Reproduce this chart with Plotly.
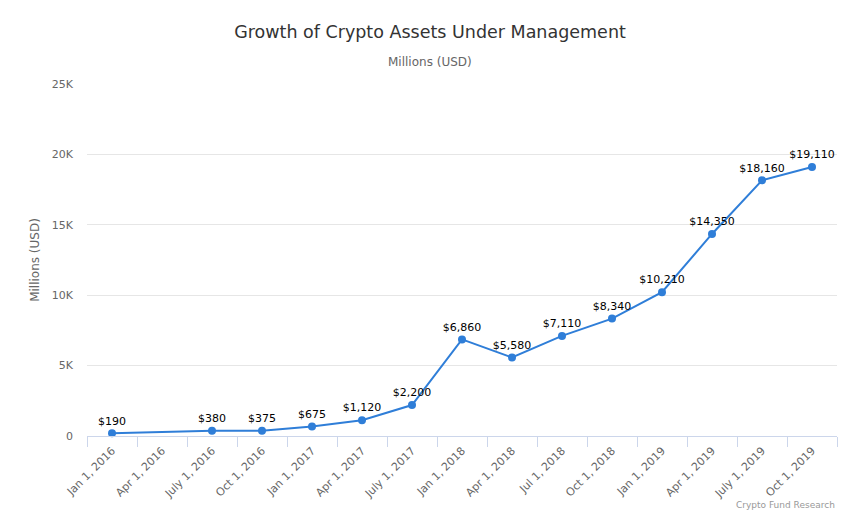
import plotly.graph_objects as go

categories = ["Jan 1, 2016", "Apr 1, 2016", "July 1, 2016", "Oct 1, 2016", "Jan 1, 2017",
              "Apr 1, 2017", "July 1, 2017", "Jan 1, 2018", "Apr 1, 2018", "Jul 1, 2018",
              "Oct 1, 2018", "Jan 1, 2019", "Apr 1, 2019", "July 1, 2019", "Oct 1, 2019"]
aum_values = [190, None, 380, 375, 675, 1120, 2200, 6860, 5580, 7110, 8340, 10210, 14350, 18160, 19110]
y_tick_values = [0, 5000, 10000, 15000, 20000, 25000]
y_tick_labels = ["0", "5K", "10K", "15K", "20K", "25K"]

labels = ["" if v is None else "${:,}".format(v) for v in aum_values]

FONT = "DejaVu Sans"
W, H = 860, 523  # page body has an 8px margin
T, B, L, R = 76, 95, 79, 31
PH = H - T - B
PW = W - L - R


def paper_y(fig_px):
    return (H - B - fig_px) / PH


def paper_x(fig_px):
    return (fig_px - L) / PW


fig = go.Figure()
fig.add_trace(go.Scatter(
    x=categories, y=aum_values, mode="lines+markers+text",
    text=labels, textposition="top center",
    textfont=dict(family=FONT, size=11, color="#000000"),
    line=dict(color="#2f7ed8", width=2),
    marker=dict(color="#2f7ed8", size=8),
    connectgaps=True, cliponaxis=False, hoverinfo="x+y",
))

fig.update_layout(
    width=W, height=H,
    margin=dict(l=L, r=R, t=T, b=B),
    paper_bgcolor="white", plot_bgcolor="white",
    showlegend=False,
    font=dict(family=FONT, color="#666666"),
    title=dict(text="Growth of Crypto Assets Under Management", x=422 / W, xanchor="center",
               y=1 - 24 / H, yref="container", yanchor="middle",
               font=dict(family=FONT, size=17.5, color="#333333")),
    xaxis=dict(type="category", tickson="boundaries", ticks="outside", ticklen=10,
               tickcolor="#ccd6eb", tickwidth=1, showline=True, linecolor="#ccd6eb",
               linewidth=1, showgrid=False, tickangle=-45, ticklabelstandoff=3,
               tickfont=dict(family=FONT, size=11, color="#666666"),
               range=[-0.5, 14.5], fixedrange=True),
    yaxis=dict(range=[0, 25000], tickvals=y_tick_values, ticktext=y_tick_labels,
               showgrid=True, gridcolor="#e6e6e6", gridwidth=1, zeroline=False,
               showline=False, ticks="", ticklabelstandoff=13,
               tickfont=dict(family=FONT, size=11, color="#666666"),
               title=dict(text="Millions (USD)", standoff=9,
                          font=dict(family=FONT, size=12, color="#666666"))),
    annotations=[
        dict(text="Millions (USD)", xref="paper", yref="paper", x=paper_x(422), y=paper_y(54),
             xanchor="center", showarrow=False, yanchor="middle",
             font=dict(family=FONT, size=12, color="#666666")),
        dict(text="Crypto Fund Research", xref="paper", yref="paper", x=1, y=paper_y(497),
             xanchor="right", yanchor="middle", showarrow=False,
             font=dict(family=FONT, size=9, color="#999999")),
    ],
)

fig.write_html("out.html")
